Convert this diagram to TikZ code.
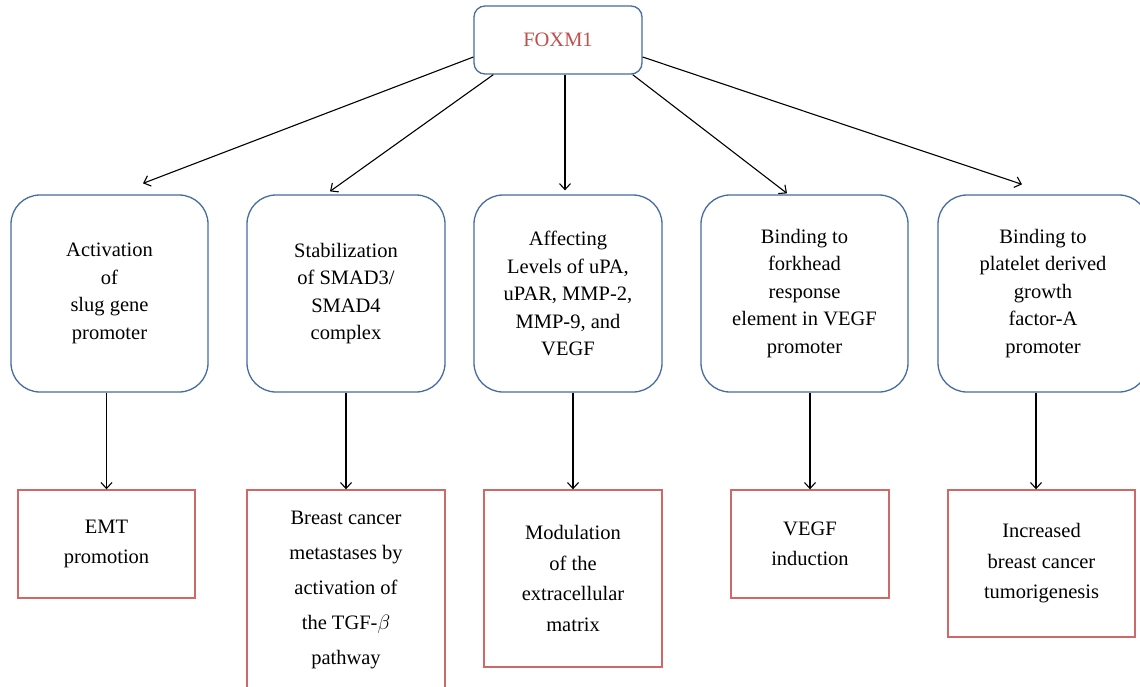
\documentclass[tikz,border=0pt]{standalone}
\usepackage{fontspec}
\setmainfont{Liberation Serif}
\usetikzlibrary{arrows.meta,calc}
\definecolor{boxblue}{RGB}{70,108,160}
\definecolor{boxred}{RGB}{208,104,104}
\definecolor{titlered}{RGB}{192,80,77}
\begin{document}
\begin{tikzpicture}[x=1pt,y=-1pt,
  bluebox/.style={draw=boxblue,line width=1.3pt,rounded corners=29pt,align=center,inner sep=0pt,
    font=\fontsize{20.5}{27.5}\selectfont},
  redbox/.style={draw=boxred,line width=1.4pt,align=center,inner sep=0pt,
    font=\fontsize{20.5}{30.5}\selectfont},
  arr/.style={line width=1.1pt,-{Straight Barb[length=6pt,width=11pt,line width=1.1pt]}}]
\useasboundingbox[fill=white] (0,0) rectangle (1140,686);
\node[draw=boxblue,line width=1.3pt,rounded corners=11pt,minimum width=168pt,minimum height=68pt,
  inner sep=0pt,text=titlered,font=\fontsize{20.5}{24}\selectfont] (foxm) at (558,40) {FOXM1};

\node[bluebox,minimum width=197pt,minimum height=197pt] (b1) at (109.5,293.5)
  {Activation\\of\\slug gene\\promoter};
\node[bluebox,minimum width=198pt,minimum height=197pt] (b2) at (346,293.5)
  {Stabilization\\of SMAD3/\\SMAD4\\complex};
\node[bluebox,minimum width=188pt,minimum height=197pt] (b3) at (568,293.5)
  {Affecting\\Levels of uPA,\\uPAR, MMP-2,\\MMP-9, and\\VEGF};
\node[bluebox,minimum width=207pt,minimum height=197pt] (b4) at (804.5,293.5)
  {Binding to\\forkhead\\response\\element in VEGF\\promoter};
\node[bluebox,minimum width=210pt,minimum height=197pt] (b5) at (1043,293.5)
  {Binding to\\platelet derived\\growth\\factor-A\\promoter};

\node[redbox,minimum width=177pt,minimum height=108pt] (r1) at (106.5,544)
  {EMT\\promotion};
\node[redbox,minimum width=198pt,minimum height=200pt,font=\fontsize{20.5}{35}\selectfont] (r2) at (346,590)
  {Breast cancer\\metastases by\\activation of\\the TGF-$\beta$\\pathway};
\node[redbox,minimum width=178pt,minimum height=177pt] (r3) at (573,578.5)
  {Modulation\\of the\\extracellular\\matrix};
\node[redbox,minimum width=158pt,minimum height=108pt] (r4) at (810,544)
  {VEGF\\induction};
\node[redbox,minimum width=187pt,minimum height=147pt] (r5) at (1041.5,563.5)
  {Increased\\breast cancer\\tumorigenesis};

\draw[arr] ([yshift=-17pt]foxm.west) -- ([xshift=33.5pt,yshift=11pt]b1.north);
\draw[arr] ([xshift=20pt]foxm.south west) -- ([xshift=-16pt,yshift=3pt]b2.north);
\draw[arr] ([xshift=7pt]foxm.south) -- ([xshift=-3pt,yshift=4pt]b3.north);
\draw[arr] ([xshift=-10pt]foxm.south east) -- ([xshift=-17.5pt,yshift=1pt]b4.north);
\draw[arr] ([yshift=-17pt]foxm.east) -- ([xshift=-21pt,yshift=10pt]b5.north);

\draw[arr] (b1.south -| r1.north) -- (r1.north);
\draw[arr] (b2.south -| r2.north) -- (r2.north);
\draw[arr] (b3.south -| r3.north) -- (r3.north);
\draw[arr] (b4.south -| r4.north) -- (r4.north);
\draw[arr] ([xshift=-5.5pt]r5.north |- b5.south) -- ([xshift=-5.5pt]r5.north);
\end{tikzpicture}
\end{document}
